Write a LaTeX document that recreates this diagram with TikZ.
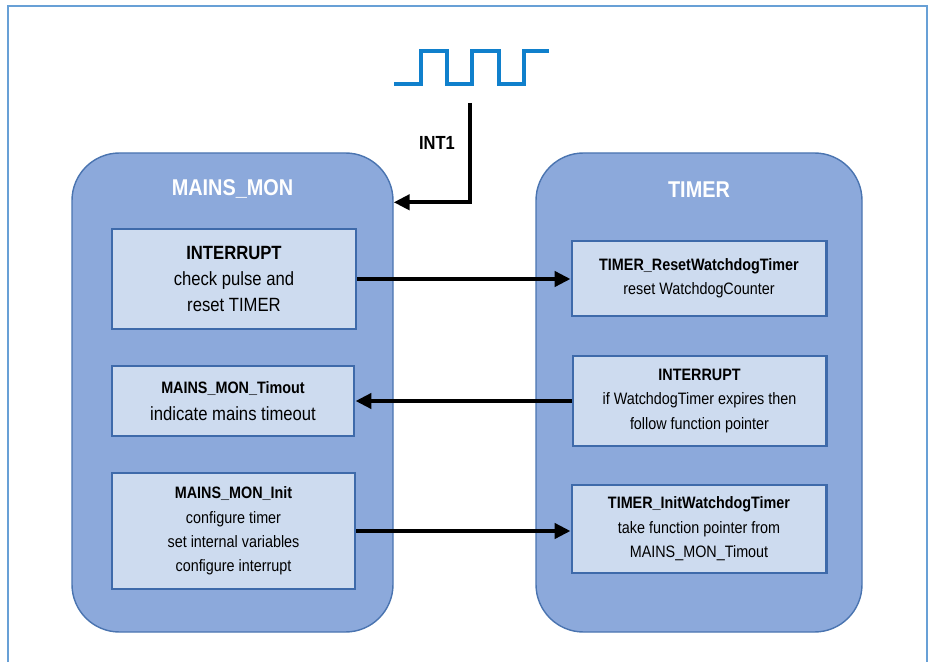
\documentclass[tikz,border=0pt]{standalone}
\usepackage{fontspec}
\setmainfont[FakeStretch=0.87]{Liberation Sans}
\usepackage{tikz}
\usetikzlibrary{calc}
\usetikzlibrary{arrows.meta,positioning}

\definecolor{framecol}{RGB}{104,160,214}
\definecolor{pulsecol}{RGB}{16,128,204}
\definecolor{modfill}{RGB}{140,169,219}
\definecolor{moddraw}{RGB}{74,116,176}
\definecolor{funcfill}{RGB}{205,219,239}
\definecolor{funcdraw}{RGB}{62,106,170}

\newcommand{\bigtxt}{\fontsize{10.9}{15}\selectfont}
\newcommand{\smalltxt}{\fontsize{9.4}{13.9}\selectfont}

\begin{document}
\begin{tikzpicture}[
  module/.style={rectangle,rounded corners=0.95cm,fill=modfill,draw=moddraw,line width=0.8pt},
  func/.style={rectangle,fill=funcfill,draw=funcdraw,line width=1.7pt,align=center,inner sep=0pt},
  call/.style={line width=2.3pt,-{Triangle[length=9pt,width=8.5pt]}}
]

\useasboundingbox (0,0) rectangle (18.7,13.24);
\coordinate (LEFTCORNER) at (0,0);

% draw frame
\draw[line width=1.1pt,framecol] (LEFTCORNER) ++(0.16,0) -- ++(0,13.12) -- ++(18.38,0) -- ++(0,-13.12);

%%%%%%%%%%%%%%%%%%%
% draw modules
\node[module,minimum width=6.42cm,minimum height=9.58cm] at ($(LEFTCORNER)+(4.65,5.39)$) (MAINSMON) {};
\node[white,font=\fontsize{13}{15}\selectfont\bfseries] at ($(MAINSMON.north)+(0,-0.74)$) (mainstitle) {MAINS\_MON};
\node[module,minimum width=6.52cm,minimum height=9.58cm] at ($(LEFTCORNER)+(13.98,5.39)$) (TIMER) {};
\node[white,font=\fontsize{13}{15}\selectfont\bfseries] at ($(TIMER.north)+(0,-0.74)$) (timertitle) {TIMER};

%%%%%%%%%%%%%%%%%%%
% draw functions of MAINS_MON
\node[func,font=\bigtxt,minimum width=4.88cm,minimum height=2.0cm] at ($(LEFTCORNER)+(4.68,7.66)$) (MAINSINT) {\textbf{INTERRUPT}\\check pulse and\\reset TIMER};
\node[func,font=\bigtxt,minimum width=4.84cm,minimum height=1.4cm] at ($(LEFTCORNER)+(4.66,5.22)$) (TIMOUT) {{\smalltxt\bfseries MAINS\_MON\_Timout}\\indicate mains timeout};
\node[func,font=\smalltxt,minimum width=4.86cm,minimum height=2.32cm] at ($(LEFTCORNER)+(4.67,2.62)$) (MAINSINIT) {\textbf{MAINS\_MON\_Init}\\configure timer\\set internal variables\\configure interrupt};

%%%%%%%%%%%%%%%%%%%
% draw functions of TIMER
\node[func,font=\smalltxt,minimum width=5.08cm,minimum height=1.5cm] at ($(LEFTCORNER)+(13.98,7.67)$) (RESETWD) {\textbf{TIMER\_ResetWatchdogTimer}\\reset WatchdogCounter};
\node[func,font=\smalltxt,minimum width=5.06cm,minimum height=1.8cm] at ($(LEFTCORNER)+(13.99,5.22)$) (TIMERINT) {\textbf{INTERRUPT}\\if WatchdogTimer expires then\\follow function pointer};
\node[func,font=\smalltxt,minimum width=5.08cm,minimum height=1.76cm] at ($(LEFTCORNER)+(13.98,2.66)$) (INITWD) {\textbf{TIMER\_InitWatchdogTimer}\\take function pointer from\\MAINS\_MON\_Timout};

%%%%%%%%%%%%%%%%%%%
% draw pulse and INT1
\coordinate (PULSE) at ($(LEFTCORNER)+(7.88,11.56)$);
\draw[pulsecol,line width=2.3pt] (PULSE) -- ++(0.54,0) -- ++(0,0.66) -- ++(0.52,0) -- ++(0,-0.66) -- ++(0.5,0) -- ++(0,0.66) -- ++(0.54,0) -- ++(0,-0.66) -- ++(0.5,0) -- ++(0,0.66) -- ++(0.5,0);
\coordinate (INT1TOP) at ($(LEFTCORNER)+(9.4,11.18)$);
\draw[call] (INT1TOP) |- ($(MAINSMON.north east)+(0,-1.0)$);
\node[font=\fontsize{10.8}{13}\selectfont\bfseries] at ($(INT1TOP)+(-0.66,-0.8)$) (int1) {INT1};

% draw calls
\draw[call] (MAINSINT.east) -- (MAINSINT.east -| RESETWD.west);
\draw[call] (TIMERINT.west) -- (TIMOUT.east);
\draw[call] (MAINSINIT.east) -- (MAINSINIT.east -| INITWD.west);

\end{tikzpicture}
\end{document}
